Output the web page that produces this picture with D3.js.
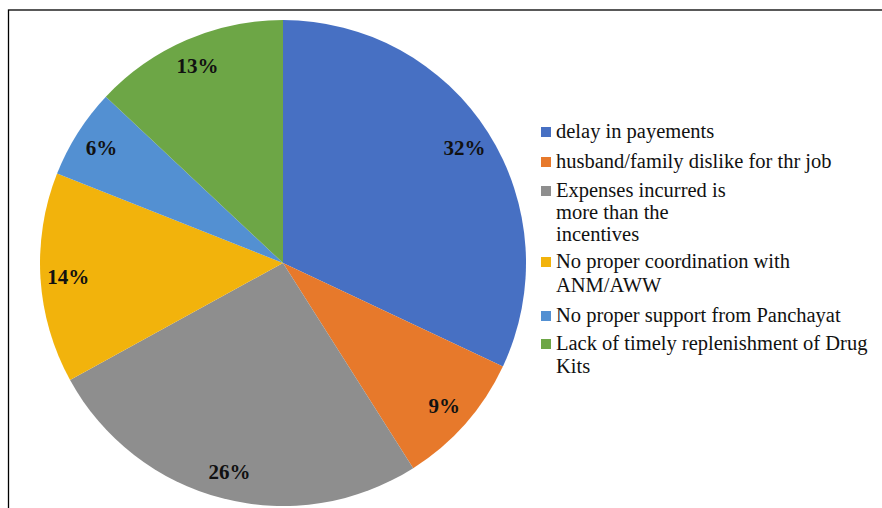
<!DOCTYPE html>
<html>
<head>
<meta charset="utf-8">
<script src="https://cdn.jsdelivr.net/npm/d3@7"></script>
<style>
  body { margin: 0; background: #fff; }
  svg text { font-family: "Liberation Serif", "Times New Roman", serif; }
</style>
</head>
<body>
<svg id="chart" width="882" height="508"></svg>
<script>
// reasons and their shares (percent)
const reasons = [
  "delay in payements",
  "husband/family dislike for thr job",
  "Expenses incurred is more than the incentives",
  "No proper coordination with ANM/AWW",
  "No proper support from Panchayat",
  "Lack of timely replenishment of Drug Kits"
];
const shares = [32, 9, 26, 14, 6, 13];
const colors = ["#4770c3", "#e7792b", "#8e8e8e", "#f2b30c", "#5390d2", "#6da646"];
// legend lines as they wrap in the picture
const legendLines = [
  ["delay in payements"],
  ["husband/family dislike for thr job"],
  ["Expenses incurred is", "more than the", "incentives"],
  ["No proper coordination with", "ANM/AWW"],
  ["No proper support from Panchayat"],
  ["Lack of timely replenishment of Drug", "Kits"]
];

let svg = d3.select("#chart");

// frame (runs off the right and bottom edge)
svg.append("rect")
  .attr("x", 8.5).attr("y", 10)
  .attr("width", 900).attr("height", 520)
  .attr("fill", "none").attr("stroke", "#000").attr("stroke-width", 1.3);

let cx = 283, cy = 263, r = 243;
let data = shares.map((v, i) => ({ name: reasons[i], value: v, i: i }));

let pie = d3.pie().sort(null).value(d => d.value);
let arc = d3.arc().innerRadius(0).outerRadius(r);
let labelArc = d3.arc().innerRadius(r * 0.885).outerRadius(r * 0.885);

let g = svg.append("g").attr("transform", `translate(${cx},${cy})`);

g.selectAll("path")
  .data(pie(data))
  .join("path")
  .attr("d", arc)
  .attr("fill", d => colors[d.data.i]);

g.selectAll("text.pct")
  .data(pie(data))
  .join("text")
  .attr("class", "pct")
  .attr("transform", d => `translate(${labelArc.centroid(d)})`)
  .attr("text-anchor", "middle")
  .attr("dy", "0.35em")
  .attr("font-size", 21)
  .attr("font-weight", "bold")
  .attr("fill", "#111")
  .text(d => d.data.value + "%");

// legend
let legendTop = [138, 168, 197, 268, 322, 350];
let lineStep = [0, 0, 22, 24, 0, 23];
let lg = svg.append("g");
legendLines.forEach((lines, i) => {
  let item = lg.append("g");
  item.append("rect")
    .attr("x", 541).attr("y", legendTop[i] - 11)
    .attr("width", 10).attr("height", 10)
    .attr("fill", colors[i]);
  lines.forEach((t, j) => {
    item.append("text")
      .attr("x", 556)
      .attr("y", legendTop[i] + j * lineStep[i])
      .attr("font-size", 20.5)
      .attr("fill", "#111")
      .text(t);
  });
});
</script>
</body>
</html>
